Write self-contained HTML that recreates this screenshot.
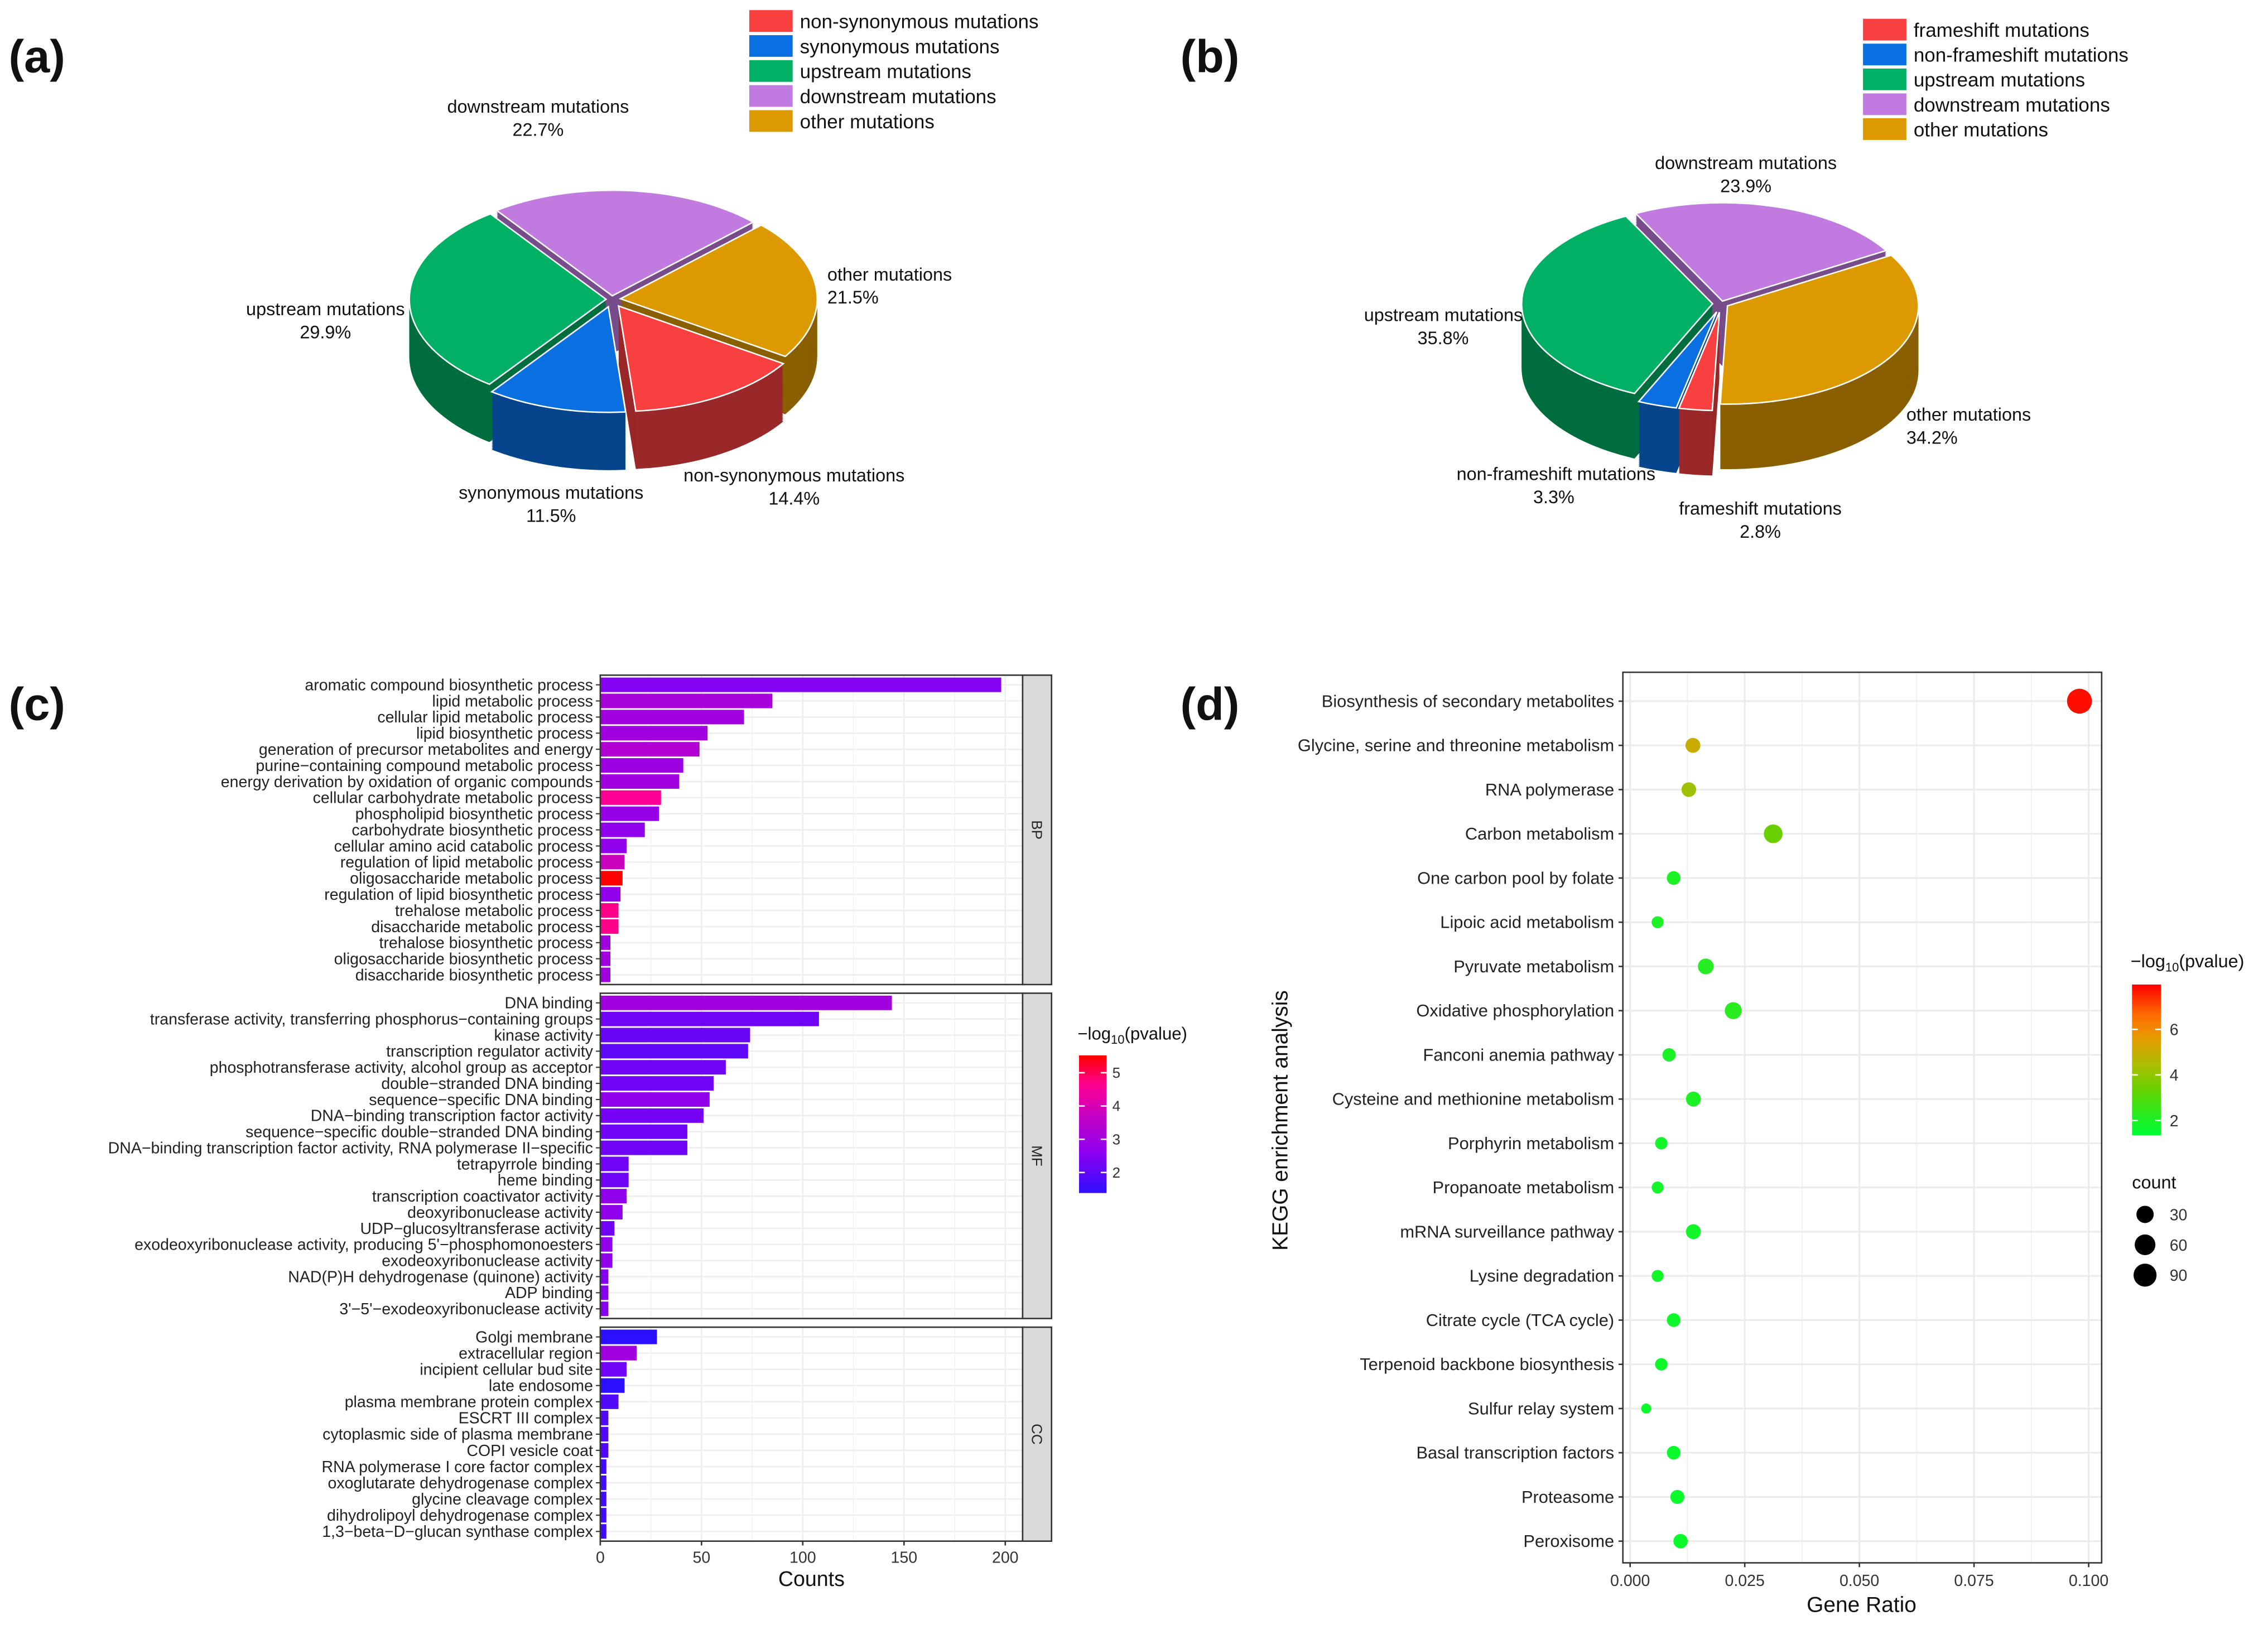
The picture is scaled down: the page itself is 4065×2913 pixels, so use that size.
<!DOCTYPE html>
<html><head><meta charset="utf-8"><style>
html,body{margin:0;padding:0;background:#fff;}
svg{display:block;font-family:"Liberation Sans",Arial,sans-serif;}
</style></head><body>
<svg id="fig" width="4065" height="2913" viewBox="0 0 1568 1124" preserveAspectRatio="none" xmlns="http://www.w3.org/2000/svg">
<rect width="1568" height="1124" fill="#fff"/>
<g font-weight="bold" font-size="32" fill="#111">
<text x="6" y="50">(a)</text>
<text x="816" y="50">(b)</text>
<text x="6" y="498">(c)</text>
<text x="816" y="498">(d)</text>
</g>
<g id="pieA"></g>
<g id="pieB"></g>
<g id="barC"></g>
<g id="dotD"></g>
</svg>
<script>
const NS="http://www.w3.org/2000/svg";
function mk(parent,tag,attrs,text){const e=document.createElementNS(NS,tag);for(const k in attrs)e.setAttribute(k,attrs[k]);if(text!==undefined)e.textContent=text;parent.appendChild(e);return e;}

// ---------- PIE DATA ----------
const pieALabels=["downstream mutations","other mutations","non-synonymous mutations","synonymous mutations","upstream mutations"];
const pieAValues=[22.7,21.5,14.4,11.5,29.9];
const pieAColors=["#c07ae0","#dd9a00","#f94040","#0a6fe0","#00b064"];
const pieALegend=["non-synonymous mutations","synonymous mutations","upstream mutations","downstream mutations","other mutations"];
const pieALegendColors=["#f94040","#0a6fe0","#00b064","#c07ae0","#dd9a00"];
const pieBLabels=["downstream mutations","other mutations","frameshift mutations","non-frameshift mutations","upstream mutations"];
const pieBValues=[23.9,34.2,2.8,3.3,35.8];
const pieBColors=["#c07ae0","#dd9a00","#f94040","#0a6fe0","#00b064"];
const pieBLegend=["frameshift mutations","non-frameshift mutations","upstream mutations","downstream mutations","other mutations"];
const pieBLegendColors=["#f94040","#0a6fe0","#00b064","#c07ae0","#dd9a00"];

function shade(hex,f){const n=parseInt(hex.slice(1),16);const r=Math.round(((n>>16)&255)*f),g=Math.round(((n>>8)&255)*f),b=Math.round((n&255)*f);return "rgb("+r+","+g+","+b+")";}
function sectorPath(cx,cy,rx,ry,a0,a1){const p=(a)=>[cx+rx*Math.sin(a),cy-ry*Math.cos(a)];const s=p(a0),e=p(a1);const large=(a1-a0)>Math.PI?1:0;return "M"+cx+","+cy+" L"+s[0]+","+s[1]+" A"+rx+","+ry+" 0 "+large+" 1 "+e[0]+","+e[1]+" Z";}

function drawPie(g,o){
  const total=o.values.reduce((a,b)=>a+b,0);
  let a=o.start*Math.PI/180;const sl=[];
  o.values.forEach((v,i)=>{const a1=a+v/total*2*Math.PI;const mid=(a+a1)/2;const ex=o.explode[i];sl.push({a0:a,a1:a1,dx:ex*Math.sin(mid),dy:-ex*Math.cos(mid)*0.6,c:o.colors[i]});a=a1;});
  for(let d=o.depth;d>=1;d--){sl.forEach((s,i)=>{mk(g,"path",{d:sectorPath(o.cx+s.dx,o.cy+s.dy+d,o.rx,o.ry,s.a0,s.a1),fill:shade(s.c,0.62)});});}
  sl.forEach((s,i)=>{const p=mk(g,"path",{d:sectorPath(o.cx+s.dx,o.cy+s.dy,o.rx,o.ry,s.a0,s.a1),fill:s.c,stroke:"#fff","stroke-width":1});
    
    });
  o.lab.forEach((L,i)=>{const t1=mk(g,"text",{x:L[0],y:L[1],"font-size":12.5,fill:"#111","text-anchor":L[2]||"middle"},o.labels[i]);
    
    
    const t2=mk(g,"text",{x:L[3]!==undefined?L[3]:L[0],y:L[1]+16,"font-size":12.5,fill:"#111","text-anchor":L[2]||"middle"},o.values[i].toFixed(1)+"%");
    
    });
  o.legend.forEach((n,i)=>{const y=o.ly+i*o.lstep;const r=mk(g,"rect",{x:o.lx,y:y,width:30,height:15,fill:o.legendColors[i]});
    
    
    const t=mk(g,"text",{x:o.lx+35,y:y+12.5,"font-size":13.5,fill:"#111"},n);
    
    });
}
drawPie(document.getElementById("pieA"),{cx:423,cy:207,rx:136,ry:73,depth:40,start:-36,values:pieAValues,colors:pieAColors,labels:pieALabels,explode:[4,6,9,9,4],
  lab:[[372,78],[572,194,"start",572],[549,333],[381,345],[225,218]],legend:pieALegend,legendColors:pieALegendColors,lx:518,ly:7,lstep:17.3});
drawPie(document.getElementById("pieB"),{cx:1190,cy:210,rx:132,ry:68,depth:45,start:-27,values:pieBValues,colors:pieBColors,labels:pieBLabels,explode:[3,5,10,10,6],
  lab:[[1207,117],[1318,291,"start",1318],[1217,356],[1007,332,"start",1060],[943,222,"start",980]],legend:pieBLegend,legendColors:pieBLegendColors,lx:1288,ly:13,lstep:17.2});

// ---------- BAR CHART (c) DATA ----------
const bpTerms=["aromatic compound biosynthetic process","lipid metabolic process","cellular lipid metabolic process","lipid biosynthetic process","generation of precursor metabolites and energy","purine\u2212containing compound metabolic process","energy derivation by oxidation of organic compounds","cellular carbohydrate metabolic process","phospholipid biosynthetic process","carbohydrate biosynthetic process","cellular amino acid catabolic process","regulation of lipid metabolic process","oligosaccharide metabolic process","regulation of lipid biosynthetic process","trehalose metabolic process","disaccharide metabolic process","trehalose biosynthetic process","oligosaccharide biosynthetic process","disaccharide biosynthetic process"];
const bpCounts=[198,85,71,53,49,41,39,30,29,22,13,12,11,10,9,9,5,5,5];
const bpLogP=[2.5,3.1,3.0,3.0,3.3,2.9,3.0,4.6,2.8,2.7,2.7,3.8,5.5,2.7,4.7,4.7,3.0,3.0,3.0];
const mfTerms=["DNA binding","transferase activity, transferring phosphorus\u2212containing groups","kinase activity","transcription regulator activity","phosphotransferase activity, alcohol group as acceptor","double\u2212stranded DNA binding","sequence\u2212specific DNA binding","DNA\u2212binding transcription factor activity","sequence\u2212specific double\u2212stranded DNA binding","DNA\u2212binding transcription factor activity, RNA polymerase II\u2212specific","tetrapyrrole binding","heme binding","transcription coactivator activity","deoxyribonuclease activity","UDP\u2212glucosyltransferase activity","exodeoxyribonuclease activity, producing 5'\u2212phosphomonoesters","exodeoxyribonuclease activity","NAD(P)H dehydrogenase (quinone) activity","ADP binding","3'\u22125'\u2212exodeoxyribonuclease activity"];
const mfCounts=[144,108,74,73,62,56,54,51,43,43,14,14,13,11,7,6,6,4,4,4];
const mfLogP=[3.0,2.2,2.1,2.0,2.2,2.2,2.7,2.3,2.2,2.2,2.2,2.2,2.7,2.7,2.2,2.7,2.7,2.5,2.5,2.5];
const ccTerms=["Golgi membrane","extracellular region","incipient cellular bud site","late endosome","plasma membrane protein complex","ESCRT III complex","cytoplasmic side of plasma membrane","COPI vesicle coat","RNA polymerase I core factor complex","oxoglutarate dehydrogenase complex","glycine cleavage complex","dihydrolipoyl dehydrogenase complex","1,3\u2212beta\u2212D\u2212glucan synthase complex"];
const ccCounts=[28,18,13,12,9,4,4,4,3,3,3,3,3];
const ccLogP=[1.3,3.0,2.2,1.3,1.8,1.8,1.8,1.8,1.6,1.6,1.6,1.6,1.6];
const cTicks=[0,50,100,150,200];
const cLegendTicks=[2,3,4,5];

function lerpStops(stops,t){t=Math.max(0,Math.min(1,t));for(let i=1;i<stops.length;i++){if(t<=stops[i][0]){const a=stops[i-1],b=stops[i];const f=(t-a[0])/(b[0]-a[0]);const ca=parseInt(a[1].slice(1),16),cb=parseInt(b[1].slice(1),16);const ch=(s)=>Math.round(((ca>>s)&255)*(1-f)+((cb>>s)&255)*f);return "rgb("+ch(16)+","+ch(8)+","+ch(0)+")";}}return stops[stops.length-1][1];}
const cStops=[[0,"#2a10ff"],[0.3,"#8a00f0"],[0.55,"#c000c8"],[0.8,"#ff0090"],[1,"#ff0000"]];
const cMin=1.3,cMax=5.5;
function cColor(v){return lerpStops(cStops,(v-cMin)/(cMax-cMin));}

(function(){
  const g=document.getElementById("barC");
  const x0=415,x1=707,sx=(v)=>x0+v*1.4;
  const panels=[{terms:bpTerms,counts:bpCounts,p:bpLogP,y0:467,y1:681,lab:"BP"},{terms:mfTerms,counts:mfCounts,p:mfLogP,y0:687,y1:912,lab:"MF"},{terms:ccTerms,counts:ccCounts,p:ccLogP,y0:918,y1:1066,lab:"CC"}];
  panels.forEach(P=>{
    mk(g,"rect",{x:x0,y:P.y0,width:x1-x0,height:P.y1-P.y0,fill:"#fff"});
    for(let v=25;v<=200;v+=25){mk(g,"line",{x1:sx(v),x2:sx(v),y1:P.y0,y2:P.y1,stroke:"#eeeeee","stroke-width":v%50?0.5:1});}
    const n=P.terms.length,step=(P.y1-P.y0)/(n+0.2);
    P.terms.forEach((t,i)=>{const yc=P.y0+step*(i+0.6);
      mk(g,"line",{x1:x0,x2:x1,y1:yc,y2:yc,stroke:"#eeeeee","stroke-width":1});
      const r=mk(g,"rect",{x:x0,y:yc-step*0.45,width:sx(P.counts[i])-x0,height:step*0.9,fill:cColor(P.p[i])});
      
      
      const tl=mk(g,"text",{x:x0-5,y:yc+3.8,"font-size":11,fill:"#222","text-anchor":"end"},t);
      
      
      mk(g,"line",{x1:x0-3,x2:x0,y1:yc,y2:yc,stroke:"#333","stroke-width":0.8});
    });
    mk(g,"rect",{x:x0,y:P.y0,width:x1-x0,height:P.y1-P.y0,fill:"none",stroke:"#333","stroke-width":1});
    const s=mk(g,"rect",{x:x1,y:P.y0,width:20,height:P.y1-P.y0,fill:"#d9d9d9",stroke:"#333","stroke-width":1});
    
    
    const cy=(P.y0+P.y1)/2;
    mk(g,"text",{x:x1+10,y:cy,"font-size":10,fill:"#222","text-anchor":"middle",transform:"rotate(90 "+(x1+10)+" "+cy+") translate(0 3.5)"},P.lab);
  });
  cTicks.forEach(v=>{mk(g,"line",{x1:sx(v),x2:sx(v),y1:1066,y2:1069,stroke:"#333"});
    const t=mk(g,"text",{x:sx(v),y:1081,"font-size":11,fill:"#333","text-anchor":"middle"},v);
    
    });
  const xt=mk(g,"text",{x:561,y:1097,"font-size":14.5,fill:"#111","text-anchor":"middle"},"Counts");
  
  
  const lt=mk(g,"text",{x:745,y:719,"font-size":12,fill:"#111"});
  lt.innerHTML='\u2212log<tspan font-size="8.5" dy="3">10</tspan><tspan dy="-3">(pvalue)</tspan>';
  
  
  const ly=(v)=>811-(v-2)*23;
  for(let y=730;y<825;y+=1){mk(g,"rect",{x:746,y:y,width:19,height:1.2,fill:cColor(2+(811-y-0.5)/23)});}
  cLegendTicks.forEach(v=>{mk(g,"line",{x1:746,x2:750,y1:ly(v),y2:ly(v),stroke:"#fff"});mk(g,"line",{x1:761,x2:765,y1:ly(v),y2:ly(v),stroke:"#fff"});
    mk(g,"text",{x:769,y:ly(v)+3.5,"font-size":10,fill:"#333"},v);});
})();

// ---------- DOT CHART (d) DATA ----------
const keggTerms=["Biosynthesis of secondary metabolites","Glycine, serine and threonine metabolism","RNA polymerase","Carbon metabolism","One carbon pool by folate","Lipoic acid metabolism","Pyruvate metabolism","Oxidative phosphorylation","Fanconi anemia pathway","Cysteine and methionine metabolism","Porphyrin metabolism","Propanoate metabolism","mRNA surveillance pathway","Lysine degradation","Citrate cycle (TCA cycle)","Terpenoid backbone biosynthesis","Sulfur relay system","Basal transcription factors","Proteasome","Peroxisome"];
const keggRatio=[0.098,0.0137,0.0128,0.0312,0.0095,0.006,0.0165,0.0225,0.0085,0.0138,0.0068,0.006,0.0138,0.006,0.0095,0.0068,0.0035,0.0095,0.0103,0.011];
const keggLogP=[7.8,5.0,4.2,3.4,2.0,2.0,2.2,2.3,2.0,2.0,1.8,1.8,1.8,1.8,1.7,1.7,1.6,1.6,1.6,1.6];
const keggCount=[100,14,13,33,10,6,17,23,9,14,7,6,14,6,10,7,3,10,11,12];
const dTicks=[0,0.025,0.05,0.075,0.1];
const dTickLabels=["0.000","0.025","0.050","0.075","0.100"];
const dColorTicks=[2,4,6];
const dSizeTicks=[30,60,90];
const dStops=[[0,"#00ff33"],[0.12,"#22ee22"],[0.3,"#66d000"],[0.45,"#a8c000"],[0.65,"#e89a00"],[0.8,"#ff6a00"],[1,"#ff0000"]];
const dMin=1.37,dMax=7.97;
function dColor(v){return lerpStops(dStops,(v-dMin)/(dMax-dMin));}
function dRadius(c){return 2.6*Math.pow(c,0.26);}

(function(){
  const g=document.getElementById("dotD");
  const x0=1122,x1=1453,y0=465,y1=1081;
  const sx=(v)=>1127+v*3170;
  const step=(1066-485)/19,sy=(i)=>485+i*step;
  mk(g,"rect",{x:x0,y:y0,width:x1-x0,height:y1-y0,fill:"#fff"});
  for(let v=0.0125;v<0.11;v+=0.0125){mk(g,"line",{x1:sx(v),x2:sx(v),y1:y0,y2:y1,stroke:"#f2f2f2","stroke-width":0.8});}
  dTicks.forEach(v=>mk(g,"line",{x1:sx(v),x2:sx(v),y1:y0,y2:y1,stroke:"#ebebeb","stroke-width":1.2}));
  keggTerms.forEach((t,i)=>{mk(g,"line",{x1:x0,x2:x1,y1:sy(i),y2:sy(i),stroke:"#ebebeb","stroke-width":1.2});
    mk(g,"line",{x1:x0-3,x2:x0,y1:sy(i),y2:sy(i),stroke:"#333"});
    const tl=mk(g,"text",{x:x0-6,y:sy(i)+4,"font-size":11.9,fill:"#222","text-anchor":"end"},t);
    
    });
  keggTerms.forEach((t,i)=>{const c=mk(g,"circle",{cx:sx(keggRatio[i]),cy:sy(i),r:dRadius(keggCount[i]),fill:dColor(keggLogP[i])});
    
    });
  mk(g,"rect",{x:x0,y:y0,width:x1-x0,height:y1-y0,fill:"none",stroke:"#333","stroke-width":1});
  dTicks.forEach((v,i)=>{mk(g,"line",{x1:sx(v),x2:sx(v),y1:y1,y2:y1+3,stroke:"#333"});
    const t=mk(g,"text",{x:sx(v),y:y1+16,"font-size":11,fill:"#333","text-anchor":"middle"},dTickLabels[i]);
    
    });
  const xt=mk(g,"text",{x:1287,y:1115,"font-size":15,fill:"#111","text-anchor":"middle"},"Gene Ratio");
  
  
  const yt=mk(g,"text",{x:890,y:775,"font-size":15,fill:"#111","text-anchor":"middle",transform:"rotate(-90 890 775)"},"KEGG enrichment analysis");
  
  
  const lt=mk(g,"text",{x:1473,y:669,"font-size":12.5,fill:"#111"});
  lt.innerHTML='\u2212log<tspan font-size="8.5" dy="3">10</tspan><tspan dy="-3">(pvalue)</tspan>';
  
  
  const ly=(v)=>775-(v-2)*15.75;
  for(let y=681;y<785;y+=1){mk(g,"rect",{x:1474,y:y,width:20,height:1.2,fill:dColor(2+(775-y-0.5)/15.75)});}
  dColorTicks.forEach(v=>{mk(g,"line",{x1:1474,x2:1478,y1:ly(v),y2:ly(v),stroke:"#fff"});mk(g,"line",{x1:1490,x2:1494,y1:ly(v),y2:ly(v),stroke:"#fff"});
    mk(g,"text",{x:1500,y:ly(v)+4,"font-size":11,fill:"#333"},v);});
  mk(g,"text",{x:1474,y:822,"font-size":12.5,fill:"#111"},"count");
  dSizeTicks.forEach((v,i)=>{const y=840+i*21;const c=mk(g,"circle",{cx:1483,cy:y,r:dRadius(v)*0.95,fill:"#000"});
    
    
    mk(g,"text",{x:1500,y:y+4,"font-size":11,fill:"#333"},v);});
})();
</script>
</body></html>
